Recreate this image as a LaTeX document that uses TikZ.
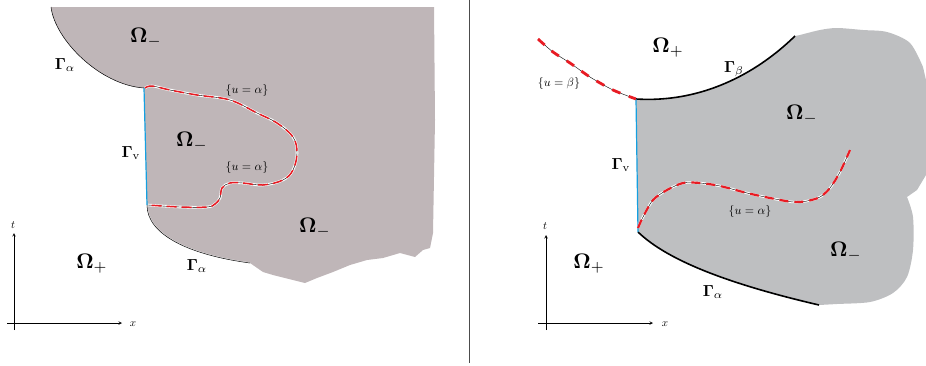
\documentclass[tikz,border=0pt]{standalone}
\usepackage{amsmath}
\definecolor{mauvegray}{RGB}{191,182,184}
\definecolor{cloudgray}{RGB}{190,191,193}
\definecolor{gammablue}{RGB}{20,160,225}
\definecolor{levelred}{RGB}{232,28,36}
\tikzset{
  omega/.style={scale=2.1},
  gam/.style={scale=1.6},
  level/.style={scale=1.2},
  axislabel/.style={scale=1.1},
  axisline/.style={line width=0.6pt, ->},
  bluewall/.style={gammablue, line width=1.2pt},
  thickfront/.style={black, line width=1.6pt},
}
\begin{document}
\begin{tikzpicture}[>=stealth, x=1pt, y=-1pt]
\useasboundingbox (0,0) rectangle (926,365);
% ---------- left panel ----------
\fill[mauvegray] (51,7) -- (434,7) -- (435,120) -- (433,233) -- (430,248) -- (423,250)
  -- (415,257) -- (400,253) -- (383,258) -- (367,260) -- (350,265) -- (333,272)
  -- (317,278) -- (305,283) -- (293,280) -- (273,275) -- (263,272) -- (250,263)
  .. controls (190,255) and (147,235) .. (147,205) -- (144,88)
  .. controls (100,85) and (55,40) .. (51,7) -- cycle;
\coordinate (LA) at (51,7);   % top of upper Gamma_alpha
\coordinate (LB) at (144,88); % top of Gamma_v
\coordinate (LC) at (147,205);% foot of Gamma_v
\coordinate (LD) at (250,263);% end of lower Gamma_alpha
\draw[line width=0.5pt] (LA) .. controls (55,40) and (100,85) .. (LB);
\draw[white, line width=1.2pt] (LC) .. controls (147,235) and (190,255) .. (LD);
\draw[line width=0.5pt] (LC) .. controls (147,235) and (190,255) .. (LD);
\draw[bluewall] (LB) -- (LC);
% level set {u = alpha}
\def\leftlevel{(145,88) (152,86) (170,90) (197,95) (230,100) (257,113) (277,123)
  (293,137) (297,153) (293,170) (283,180) (263,185) (243,183) (230,183) (222,188)
  (220,198) (215,204) (207,207) (180,207) (148,205)}
\draw[white, line width=2.6pt] plot[smooth, tension=0.6] coordinates {\leftlevel};
\draw[black, line width=0.4pt] plot[smooth, tension=0.6] coordinates {\leftlevel};
\draw[levelred, line width=1.5pt, dash pattern=on 10pt off 5pt] plot[smooth, tension=0.6] coordinates {\leftlevel};
\node[omega] (om1) at (146,38) {$\mathbf{\Omega}_{-}$};
\node[omega] (om2) at (192,142) {$\mathbf{\Omega}_{-}$};
\node[omega] (om3) at (315,228) {$\mathbf{\Omega}_{-}$};
\node[omega] (om4) at (92,264) {$\mathbf{\Omega}_{+}$};
\node[gam] (ga1) at (65,65) {$\mathbf{\Gamma}_{\alpha}$};
\node[gam] (ga2) at (197,266) {$\mathbf{\Gamma}_{\alpha}$};
\node[gam] (gv1) at (131,153) {$\mathbf{\Gamma}_{\mathrm{v}}$};
\node[level] (lv1) at (247,90) {$\{u=\alpha\}$};
\node[level] (lv2) at (247,167) {$\{u=\alpha\}$};
% axes
\draw[axisline] (14,330) -- (14,233);
\draw[axisline] (7,323) -- (122,323);
\node[axislabel] (t1) at (13,225) {$t$};
\node[axislabel] (x1) at (133,324) {$x$};
% divider
\draw[black!70, line width=0.8pt] (469.5,0) -- (469.5,363);
% ---------- right panel ----------
\fill[cloudgray] (636,99) .. controls (700,103) and (755,75) .. (795,36)
  -- plot[smooth] coordinates {(800,35) (820,30) (837,28) (863,30) (887,32) (910,43) (923,67)}
  -- (926,80) -- (926,175) -- (917,190) -- (907,197)
  -- plot[smooth] coordinates {(907,197) (913,217) (913,250) (907,277) (893,293) (870,302) (837,304) (819,305)}
  .. controls (720,282) and (665,258) .. (638,232) -- cycle;
\coordinate (RA) at (636,99);  % corner Gamma_beta / Gamma_v
\coordinate (RB) at (795,36);  % end of Gamma_beta
\coordinate (RC) at (638,232); % foot of Gamma_v
\coordinate (RD) at (819,305); % end of Gamma_alpha
\draw[thickfront] (RA) .. controls (700,103) and (755,75) .. (RB);
\draw[thickfront] (RC) .. controls (665,258) and (720,282) .. (RD);
\draw[bluewall] (RA) -- (RC);
% level set {u = beta}
\def\betalevel{(538,39) (553,52) (570,63) (590,77) (613,90) (636,99)}
\draw[black, line width=0.4pt] plot[smooth] coordinates {\betalevel};
\draw[levelred, line width=2.8pt, dash pattern=on 9pt off 9pt] plot[smooth] coordinates {\betalevel};
% level set {u = alpha}
\def\alphalevel{(638,228) (643,217) (653,200) (667,190) (683,183) (700,183) (720,186)
  (747,193) (770,198) (793,202) (807,201) (820,197) (830,188) (840,172) (850,150)}
\draw[white, line width=2.4pt] plot[smooth] coordinates {\alphalevel};
\draw[black, line width=0.4pt] plot[smooth] coordinates {\alphalevel};
\draw[levelred, line width=2.2pt, dash pattern=on 9pt off 6pt] plot[smooth] coordinates {\alphalevel};
\node[omega] (om5) at (668,48) {$\mathbf{\Omega}_{+}$};
\node[omega] (om6) at (802,115) {$\mathbf{\Omega}_{-}$};
\node[omega] (om7) at (846,252) {$\mathbf{\Omega}_{-}$};
\node[omega] (om8) at (589,264) {$\mathbf{\Omega}_{+}$};
\node[gam] (gb2) at (734,69) {$\mathbf{\Gamma}_{\beta}$};
\node[gam] (gv2) at (621,165) {$\mathbf{\Gamma}_{\mathrm{v}}$};
\node[gam] (ga3) at (713,292) {$\mathbf{\Gamma}_{\alpha}$};
\node[level] (lv3) at (559,83) {$\{u=\beta\}$};
\node[level] (lv4) at (750,211) {$\{u=\alpha\}$};
% axes
\draw[axisline] (546,330) -- (546,235);
\draw[axisline] (538,323) -- (653,323);
\node[axislabel] (t2) at (545,226) {$t$};
\node[axislabel] (x2) at (665,324) {$x$};
\end{tikzpicture}
\end{document}
